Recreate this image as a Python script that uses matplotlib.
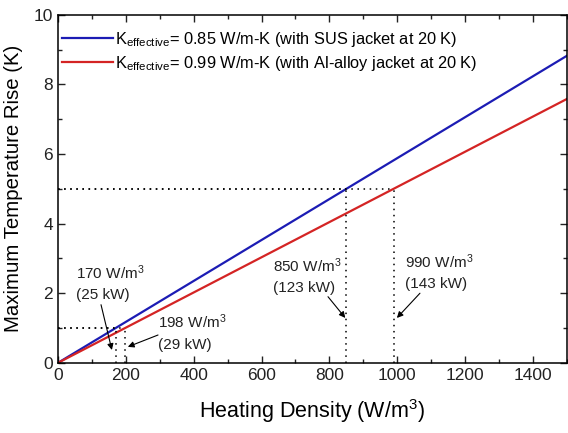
import matplotlib.pyplot as plt
from matplotlib.ticker import MultipleLocator

plt.rcParams['font.family'] = ['Liberation Sans', 'DejaVu Sans']
plt.rcParams['mathtext.fontset'] = 'custom'
plt.rcParams['mathtext.rm'] = 'Liberation Sans'
plt.rcParams['mathtext.it'] = 'Liberation Sans:italic'

# heating density (W/m3) vs maximum temperature rise (K)
heating = [0, 1500]
rise_sus = [0, 8.82]
rise_al = [0, 7.58]

# operating points marked on the chart: (density, rise)
points = [(170, 1), (198, 1), (850, 5), (990, 5)]
point_labels = ['170 W/m$^3$\n(25 kW)', '198 W/m$^3$\n(29 kW)',
                '850 W/m$^3$\n(123 kW)', '990 W/m$^3$\n(143 kW)']
label_pos = [(53, 2.31), (295, 0.88), (634, 2.51), (1023, 2.63)]
arrow_from = [(127, 1.67), (295, 0.8), (796, 1.9), (1067, 2.0)]
arrow_to = [(159, 0.37), (206, 0.46), (847, 1.29), (999, 1.29)]

fig = plt.figure(figsize=(5.68, 4.33), dpi=100)
ax = fig.add_axes([0.102, 0.162, 0.896, 0.804])

ax.plot(heating, rise_sus, color='#1c1cb4', lw=1.6,
        label=r'K$_{\mathrm{effective}}$= 0.85 W/m-K (with SUS jacket at 20 K)')
ax.plot(heating, rise_al, color='#d42424', lw=1.6,
        label=r'K$_{\mathrm{effective}}$= 0.99 W/m-K (with Al-alloy jacket at 20 K)')

# dotted guide lines to each operating point
for x, y in points:
    ax.plot([0, x], [y, y], color='black', ls=(0, (1, 3)), lw=1.1)
    ax.plot([x, x], [0, y], color='black', ls=(0, (1, 3)), lw=1.1)

for lab, pos, a, b in zip(point_labels, label_pos, arrow_from, arrow_to):
    ax.text(pos[0], pos[1], lab, fontsize=11, ha='left', va='center',
            linespacing=1.55, color='#222222')
    ax.annotate('', xy=b, xytext=a,
                arrowprops=dict(arrowstyle='-|>', color='black', lw=0.8,
                                mutation_scale=9, shrinkA=0, shrinkB=0))

ax.set_xlim(0, 1500)
ax.set_ylim(0, 10)
ax.xaxis.set_major_locator(MultipleLocator(200))
ax.xaxis.set_minor_locator(MultipleLocator(100))
ax.yaxis.set_major_locator(MultipleLocator(2))
ax.yaxis.set_minor_locator(MultipleLocator(1))
ax.tick_params(which='both', direction='in', top=True, right=True,
               labelsize=12.5, width=1, colors='#222222')
ax.tick_params(which='major', length=5)
ax.tick_params(which='minor', length=3)
for s in ax.spines.values():
    s.set_linewidth(1.1)

ax.set_xlabel('Heating Density (W/m$^3$)', fontsize=15.5, labelpad=10)
ax.set_ylabel('Maximum Temperature Rise (K)', fontsize=14.7, labelpad=8)

ax.legend(loc='upper left', bbox_to_anchor=(-0.005, 0.975), frameon=False,
          fontsize=11.8, handlelength=3.1, handletextpad=0.15,
          borderaxespad=0.0, borderpad=0.4, labelspacing=0.32)

fig.savefig('out.png', dpi=100)
